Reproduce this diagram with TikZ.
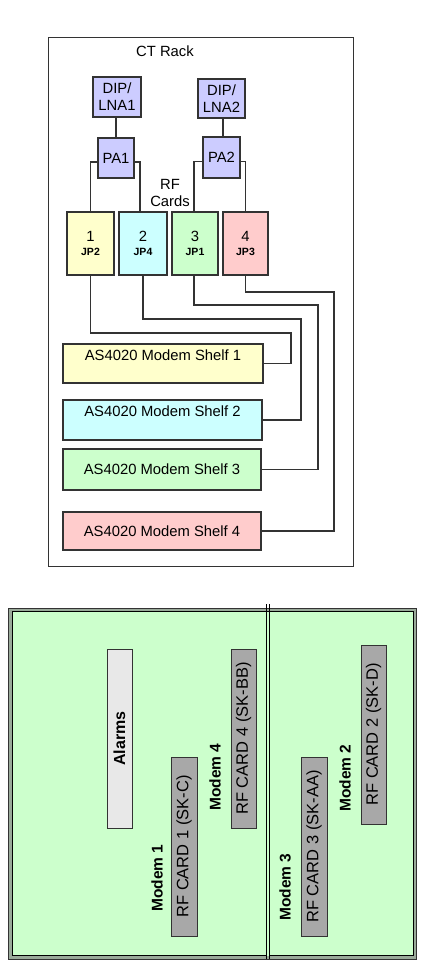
\documentclass[tikz,border=0pt]{standalone}
\usepackage{fontspec}
\setmainfont{Liberation Sans}
\definecolor{cyel}{HTML}{FFFFCC}
\definecolor{ccyan}{HTML}{CCFFFF}
\definecolor{cgreen}{HTML}{CCFFCC}
\definecolor{cpink}{HTML}{FFCCCC}
\definecolor{clav}{HTML}{CCCCFF}
\definecolor{lineg}{HTML}{333333}
\definecolor{alarmg}{HTML}{E8E8E8}
\definecolor{cardg}{HTML}{A8A8A8}
\definecolor{bandc}{HTML}{9AAA9A}
\newcommand\jpfont{\bfseries\fontsize{10.5}{13}\selectfont}
\begin{document}
\begin{tikzpicture}[x=1pt,y=-1pt,
  every node/.style={inner sep=0pt, outer sep=0pt},
  toptext/.style={font=\fontsize{14.8}{17}\selectfont, align=center},
  box/.style={draw=lineg, line width=1.2pt, toptext},
  wire/.style={draw=lineg, line width=1.2pt},
  vbox/.style={rotate=90, draw=lineg, line width=0.9pt, minimum width=179pt, font=\fontsize{16.5}{18}\selectfont},
  modem/.style={rotate=90, font=\bfseries\fontsize{15.5}{18}\selectfont},
]
\useasboundingbox (0,0) rectangle (433,963);
% ---------- CT rack ----------
\node[draw=lineg, line width=0.8pt, minimum width=305pt, minimum height=529pt] (rack) at (200.5,301.5) {};
\node[toptext] (rackt) at (165,51) {CT Rack};
\node[box, fill=clav, minimum width=48pt, minimum height=40pt] (dip1) at (117,97) {DIP/\\LNA1};
\node[box, fill=clav, minimum width=47pt, minimum height=39pt] (dip2) at (221.5,98.5) {DIP/\\LNA2};
\node[box, fill=clav, minimum width=36pt, minimum height=40pt] (pa1) at (116,158) {PA1};
\node[box, fill=clav, minimum width=37pt, minimum height=41pt] (pa2) at (221.5,157.5) {PA2};
\node[toptext] (rfc) at (170,193) {RF\\Cards};
\node[box, fill=cyel, minimum width=47pt, minimum height=63pt] (c1) at (90.5,243.5) {1\\[-3pt]{\jpfont JP2}};
\node[box, fill=ccyan, minimum width=48pt, minimum height=63pt] (c2) at (143,243.5) {2\\[-3pt]{\jpfont JP4}};
\node[box, fill=cgreen, minimum width=46pt, minimum height=63pt] (c3) at (195,243.5) {3\\[-3pt]{\jpfont JP1}};
\node[box, fill=cpink, minimum width=45pt, minimum height=63pt] (c4) at (245.5,243.5) {4\\[-3pt]{\jpfont JP3}};
\node[box, fill=cyel, minimum width=200pt, minimum height=39pt] (s1) at (163,363.5) {AS4020 Modem Shelf 1\\~};
\node[box, fill=ccyan, minimum width=199pt, minimum height=40pt] (s2) at (162.5,420) {AS4020 Modem Shelf 2\\~};
\node[box, fill=cgreen, minimum width=198pt, minimum height=41pt] (s3) at (162,469.5) {AS4020 Modem Shelf 3};
\node[box, fill=cpink, minimum width=198pt, minimum height=38pt] (s4) at (162,531) {AS4020 Modem Shelf 4};
% wires
\draw[wire] ([xshift=-1pt]dip1.south) -- ([xshift=-1pt]dip1.south |- pa1.north);
\draw[wire] ([xshift=1.5pt]dip2.south) -- ([xshift=1.5pt]dip2.south |- pa2.north);
\draw[wire] ([yshift=-4pt]pa1.west) -| (c1.north);
\draw[wire] ([yshift=-4pt]pa1.east) -| ([xshift=-3pt]c2.north);
\draw[wire] ([yshift=-4pt]pa2.west) -| ([xshift=-1pt]c3.north);
\draw[wire] ([yshift=-4pt]pa2.east) -| (c4.north);
\draw[wire] (c1.south) |- (291,333) |- (s1.east);
\draw[wire] (c2.south) |- (301,319) |- (s2.east);
\draw[wire] ([xshift=-1pt]c3.south) |- (318,305) |- (s3.east);
\draw[wire] (c4.south) |- (334,292) |- (s4.east);
% ---------- bottom panel ----------
\filldraw[fill=bandc, draw=lineg, line width=1pt] (8.5,608) rectangle (416.5,959);
\filldraw[fill=cgreen, draw=black, line width=1pt] (12.5,611.5) rectangle (413,955.5);
\fill[cgreen] (266,611.5) rectangle (269,955.5);
\draw[black, line width=1pt] (266,604) -- (266,959);
\draw[black, line width=1pt] (269,604) -- (269,959);
\node[vbox, fill=alarmg, minimum height=25pt, font=\bfseries\fontsize{16}{18}\selectfont] (alarms) at (119.5,738.5) {Alarms};
\node[vbox, fill=cardg, minimum height=26pt] (rc1) at (184,846.5) {RF CARD 1 (SK-C)};
\node[vbox, fill=cardg, minimum height=25pt] (rc4) at (243.5,738.5) {RF CARD 4 (SK-BB)};
\node[vbox, fill=cardg, minimum height=26pt] (rc3) at (314,846.5) {RF CARD 3 (SK-AA)};
\node[vbox, fill=cardg, minimum height=25pt] (rc2) at (373.5,734.5) {RF CARD 2 (SK-D)};
\node[modem] (m1) at (157,878) {Modem 1};
\node[modem] (m4) at (215,777) {Modem 4};
\node[modem] (m3) at (285,887) {Modem 3};
\node[modem] (m2) at (345,778) {Modem 2};
\end{tikzpicture}
\end{document}
